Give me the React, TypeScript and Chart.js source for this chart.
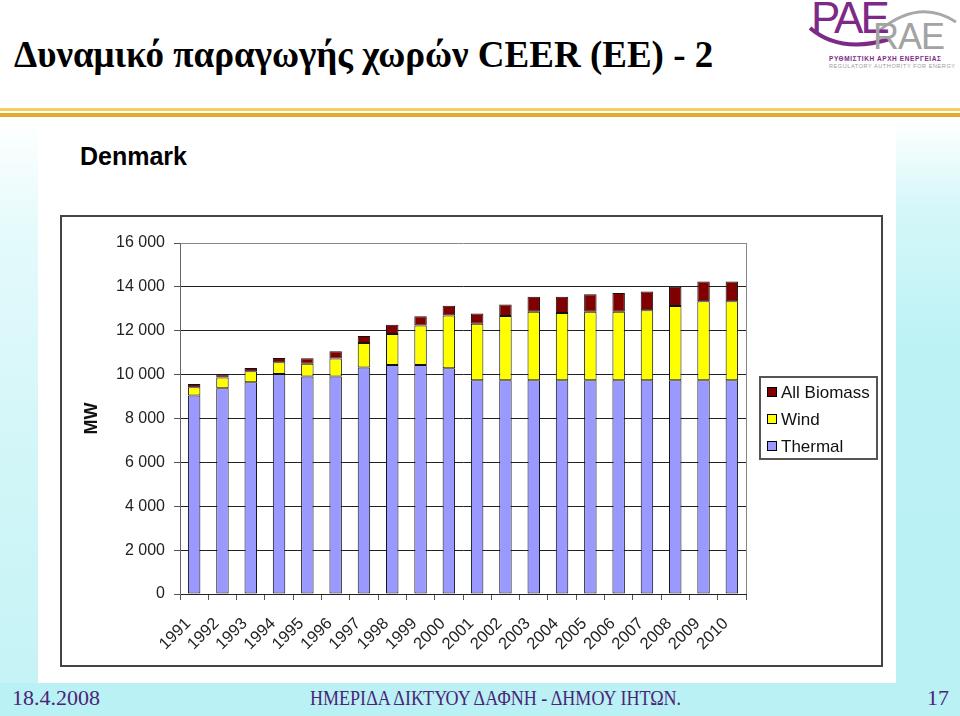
import React, { useEffect, useRef } from 'react';
import { Chart, registerables } from 'chart.js';
Chart.register(...registerables);

const years = ['1991', '1992', '1993', '1994', '1995', '1996', '1997', '1998', '1999', '2000',
  '2001', '2002', '2003', '2004', '2005', '2006', '2007', '2008', '2009', '2010'];
const thermal = [9050, 9380, 9650, 10030, 9920, 9920, 10330, 10440, 10440, 10290,
  9740, 9740, 9740, 9740, 9740, 9740, 9740, 9740, 9740, 9740];
const wind = [380, 490, 500, 530, 580, 820, 1110, 1410, 1800, 2410,
  2580, 2930, 3130, 3070, 3130, 3130, 3190, 3390, 3600, 3600];
const biomass = [140, 150, 150, 200, 250, 330, 320, 420, 420, 440,
  470, 530, 680, 740, 790, 850, 860, 880, 910, 910];
const seriesLabels = ['Thermal', 'Wind', 'All Biomass'];
const seriesColors = ['#9999FF', '#FFFF00', '#800000'];
const yMin = 0;
const yMax = 16000;
const yStep = 2000;
const yTitle = 'MW';
const chartTitle = 'Denmark';
const slideTitle = 'Δυναμικό παραγωγής χωρών CEER (ΕΕ) - 2';
const footerDate = '18.4.2008';
const footerText = 'ΗΜΕΡΙΔΑ ΔΙΚΤΥΟΥ ΔΑΦΝΗ - ΔΗΜΟΥ ΙΗΤΩΝ.';
const pageNo = '17';

const SANS = '"Liberation Sans", Arial, sans-serif';
const SERIF = '"Liberation Serif", "Times New Roman", serif';

const fmt = (v: number) => String(v).replace(/\B(?=(\d{3})+(?!\d))/g, ' ');

const boxLegend = {
  id: 'boxLegend',
  afterDraw(chart: any) {
    const { ctx, chartArea } = chart;
    const items = chart.data.datasets
      .map((d: any) => ({ label: d.label, color: d.backgroundColor }))
      .reverse();
    const w = 117, h = 82;
    const x = chartArea.right + 14;
    const y = Math.round((chartArea.top + chartArea.bottom) / 2 - h / 2 - 1);
    ctx.save();
    ctx.fillStyle = '#fff';
    ctx.fillRect(x, y, w, h);
    ctx.strokeStyle = '#555';
    ctx.lineWidth = 2;
    ctx.strokeRect(x, y, w, h);
    ctx.font = `17px ${SANS}`;
    ctx.textBaseline = 'middle';
    items.forEach((it: any, i: number) => {
      const cy = Math.round(y + 14.5 + i * 27);
      ctx.fillStyle = it.color;
      ctx.fillRect(x + 7, cy - 5, 10, 10);
      ctx.strokeStyle = '#000';
      ctx.lineWidth = 1;
      ctx.strokeRect(x + 7.5, cy - 4.5, 9, 9);
      ctx.fillStyle = '#111';
      ctx.fillText(it.label, x + 21, cy + 1);
    });
    ctx.restore();
  },
};

const plotBorder = {
  id: 'plotBorder',
  beforeDatasetsDraw(chart: any) {
    const { ctx, chartArea } = chart;
    ctx.save();
    ctx.strokeStyle = '#888';
    ctx.lineWidth = 1;
    ctx.beginPath();
    ctx.moveTo(Math.round(chartArea.right) + 0.5, chartArea.top);
    ctx.lineTo(Math.round(chartArea.right) + 0.5, chartArea.bottom);
    ctx.stroke();
    ctx.restore();
  },
};

function Logo() {
  return (
    <div style={{ position: 'absolute', left: 800, top: 0, width: 160, height: 80 }}>
      <svg width={160} height={80} style={{ position: 'absolute', left: 0, top: 0 }}>
        <path d="M 10 28 Q 40 54 90 39" stroke="#7d2a87" strokeWidth={4} fill="none" />
        <path d="M 80 30 Q 120 -2 156 22" stroke="#a8a8a8" strokeWidth={3} fill="none" />
      </svg>
      <span style={{ position: 'absolute', left: 11, top: -7, fontFamily: SANS, fontSize: 44, color: '#7d2a87', letterSpacing: -3 }}>PAE</span>
      <span style={{ position: 'absolute', left: 73, top: 16, fontFamily: SANS, fontSize: 36, color: '#a3a3a3', letterSpacing: -1 }}>RAE</span>
      <span style={{ position: 'absolute', left: 29, top: 55, fontFamily: SANS, fontSize: 6.5, fontWeight: 'bold', color: '#7d2a87', letterSpacing: 0.6, whiteSpace: 'nowrap' }}>ΡΥΘΜΙΣΤΙΚΗ ΑΡΧΗ ΕΝΕΡΓΕΙΑΣ</span>
      <span style={{ position: 'absolute', left: 29, top: 63, fontFamily: SANS, fontSize: 5.5, color: '#9a9a9a', letterSpacing: 0.6, whiteSpace: 'nowrap' }}>REGULATORY AUTHORITY FOR ENERGY</span>
    </div>
  );
}

export default function App() {
  const ref = useRef<HTMLCanvasElement>(null);
  useEffect(() => {
    const data = [thermal, wind, biomass];
    const chart = new Chart(ref.current as HTMLCanvasElement, {
      type: 'bar',
      data: {
        labels: years,
        datasets: data.map((d, i) => ({
          label: seriesLabels[i],
          data: d,
          backgroundColor: seriesColors[i],
          borderColor: '#111',
          borderWidth: 1,
          borderSkipped: false,
          barPercentage: 0.44,
          categoryPercentage: 1,
        })),
      },
      options: {
        responsive: false,
        animation: false,
        layout: { padding: { top: 26, right: 135, left: 0, bottom: 0 } },
        plugins: { legend: { display: false }, tooltip: { enabled: false } },
        scales: {
          x: {
            stacked: true,
            afterFit: (s: any) => { s.height = 71; },
            grid: { drawOnChartArea: false, tickLength: 6, tickColor: '#555', offset: true },
            border: { color: '#222', width: 1 },
            ticks: {
              minRotation: 45, maxRotation: 45, autoSkip: false, padding: 14, labelOffset: -6,
              color: '#222', font: { family: SANS, size: 16.5 },
            },
          },
          y: {
            stacked: true,
            min: yMin, max: yMax,
            afterFit: (s: any) => { s.width = 118; },
            grid: {
              color: (c: any) => (c.tick && c.tick.value === yMax ? '#888' : '#222'),
              tickLength: 6, tickColor: '#555',
            },
            border: { color: '#666', width: 1 },
            ticks: {
              stepSize: yStep, padding: 9, color: '#222',
              font: { family: SANS, size: 16 },
              callback: (v: any) => fmt(Number(v)),
            },
            title: {
              display: true, text: yTitle, color: '#111',
              font: { family: SANS, size: 18, weight: 'bold' },
              padding: { top: 19, bottom: 0 },
            },
          },
        },
      },
      plugins: [boxLegend, plotBorder],
    } as any);
    return () => chart.destroy();
  }, []);

  return (
    <div style={{ position: 'fixed', left: 0, top: 0, width: 960, height: 716, overflow: 'hidden', background: '#b9f1f5' }}>
      <div style={{ position: 'absolute', left: 0, top: 0, width: 960, height: 120, background: '#fff' }} />
      <div style={{ position: 'absolute', left: 0, top: 120, width: 40, height: 563, background: 'linear-gradient(#ffffff 0%, #e4fafb 20%, #d2f6f8 60%, #c6f3f6 100%)' }} />
      <div style={{ position: 'absolute', left: 896, top: 120, width: 64, height: 563, background: 'linear-gradient(#ffffff 0%, #d6f7f9 15%, #bdf2f5 40%, #b9f1f5 100%)' }} />
      <div style={{ position: 'absolute', left: 38, top: 118, width: 858, height: 565, background: '#fff' }} />
      <div style={{ position: 'absolute', left: 0, top: 108, width: 960, height: 3, background: '#f3cf62' }} />
      <div style={{ position: 'absolute', left: 0, top: 113, width: 960, height: 4, background: '#e2ab2c' }} />
      <div style={{ position: 'absolute', left: 14, top: 34, fontFamily: SERIF, fontWeight: 'bold', fontSize: 37, color: '#000', whiteSpace: 'nowrap', lineHeight: '42px' }}>{slideTitle}</div>
      <Logo />
      <div style={{ position: 'absolute', left: 80, top: 141, fontFamily: SANS, fontWeight: 'bold', fontSize: 25, color: '#000', whiteSpace: 'nowrap', lineHeight: '30px' }}>{chartTitle}</div>
      <div style={{ position: 'absolute', left: 60, top: 215, width: 823, height: 452, border: '2px solid #444', boxSizing: 'border-box', background: '#fff' }}>
        <canvas ref={ref} width={819} height={448} style={{ display: 'block', width: 819, height: 448 }} />
      </div>
      <div style={{ position: 'absolute', left: 12, top: 684, fontFamily: SERIF, fontSize: 22, color: '#4b2576', whiteSpace: 'nowrap', lineHeight: '28px' }}>{footerDate}</div>
      <div style={{ position: 'absolute', left: 310, top: 684, fontFamily: SERIF, fontSize: 22, color: '#4b2576', whiteSpace: 'nowrap', lineHeight: '28px', transform: 'scaleX(0.82)', transformOrigin: 'left top' }}>{footerText}</div>
      <div style={{ position: 'absolute', left: 927, top: 684, fontFamily: SERIF, fontSize: 22, color: '#4b2576', whiteSpace: 'nowrap', lineHeight: '28px' }}>{pageNo}</div>
    </div>
  );
}
